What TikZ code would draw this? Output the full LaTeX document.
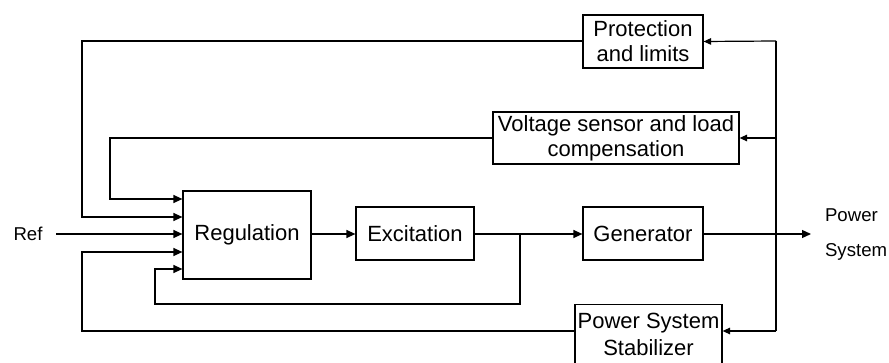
\documentclass[tikz,border=0pt]{standalone}
\usepackage{fontspec}
\setmainfont{Liberation Sans}
\usetikzlibrary{positioning,arrows.meta}

\begin{document}
\begin{tikzpicture}[
    x=0.5pt, y=-0.5pt,
    block/.style={draw, line width=0.6pt, inner sep=1pt, align=center, font=\fontsize{11}{12.6}\selectfont},
    arrow/.style={-{Triangle[length=4.5pt,width=4pt]}, line width=0.6pt},
    tap/.style={-{Triangle[length=3.8pt,width=3.3pt]}, line width=0.6pt},
    wire/.style={line width=0.6pt}
]
\useasboundingbox (0,0) rectangle (889,363);
\clip (0,0) rectangle (889,363);

\node[block, minimum width=60pt, minimum height=26.5pt] (prot) at (643,41.5) {Protection\\and limits};
\node[block, minimum width=123pt, minimum height=26pt] (volt) at (616,138) {Voltage sensor and load\\compensation};
\node[block, minimum width=64pt, minimum height=44pt] (reg) at (247,235) {Regulation};
\node[block, minimum width=59pt, minimum height=26.5pt] (exc) at (415,233.5) {Excitation};
\node[block, minimum width=60pt, minimum height=26.5pt] (gen) at (643,233.5) {Generator};
\node[block, anchor=north, minimum width=73.5pt, inner xsep=0pt, inner ysep=4.5pt,
      font=\fontsize{11}{13.5}\selectfont] (pss) at (648.5,304) {Power System\\Stabilizer};
\node[font=\fontsize{9.3}{11}\selectfont] (ref) at (28,234) {Ref};
\node[anchor=west, align=left, font=\fontsize{9.3}{11}\selectfont] (out) at (818,234.5) {Power\\[6.5pt]System};

\coordinate (src) at (56,234);
\coordinate (busTop) at (776,41);
\coordinate (busBot) at (776,331);
\coordinate (split) at (520,234);
\coordinate (sink) at (811,234);

% forward path
\draw[arrow] (src) -- (reg.west |- src);
\draw[arrow] (reg.east |- src) -- (exc.west |- src);
\draw[arrow] (exc.east |- src) -- (gen.west |- src);
\draw[arrow] (gen.east |- src) -- (sink);

% feedback bus
\draw[wire] (busTop) -- (busBot);
\draw[tap] (busTop) -- (prot.east);
\draw[tap] (volt.east -| busTop) -- (volt.east);
\draw[tap] (busBot) -- (pss.east |- busBot);

% loops back to the regulator
\draw[arrow] (prot.west |- busTop) -- (82,41) -- (82,217) -- (reg.west |- 0,217);
\draw[arrow] (volt.west) -- (110,138) -- (110,199) -- (reg.west |- 0,199);
\draw[arrow] (pss.west |- busBot) -- (82,331) -- (82,252) -- (reg.west |- 0,252);
\draw[arrow] (split) -- (520,304) -- (155,304) -- (155,269) -- (reg.west |- 0,269);
\end{tikzpicture}
\end{document}
